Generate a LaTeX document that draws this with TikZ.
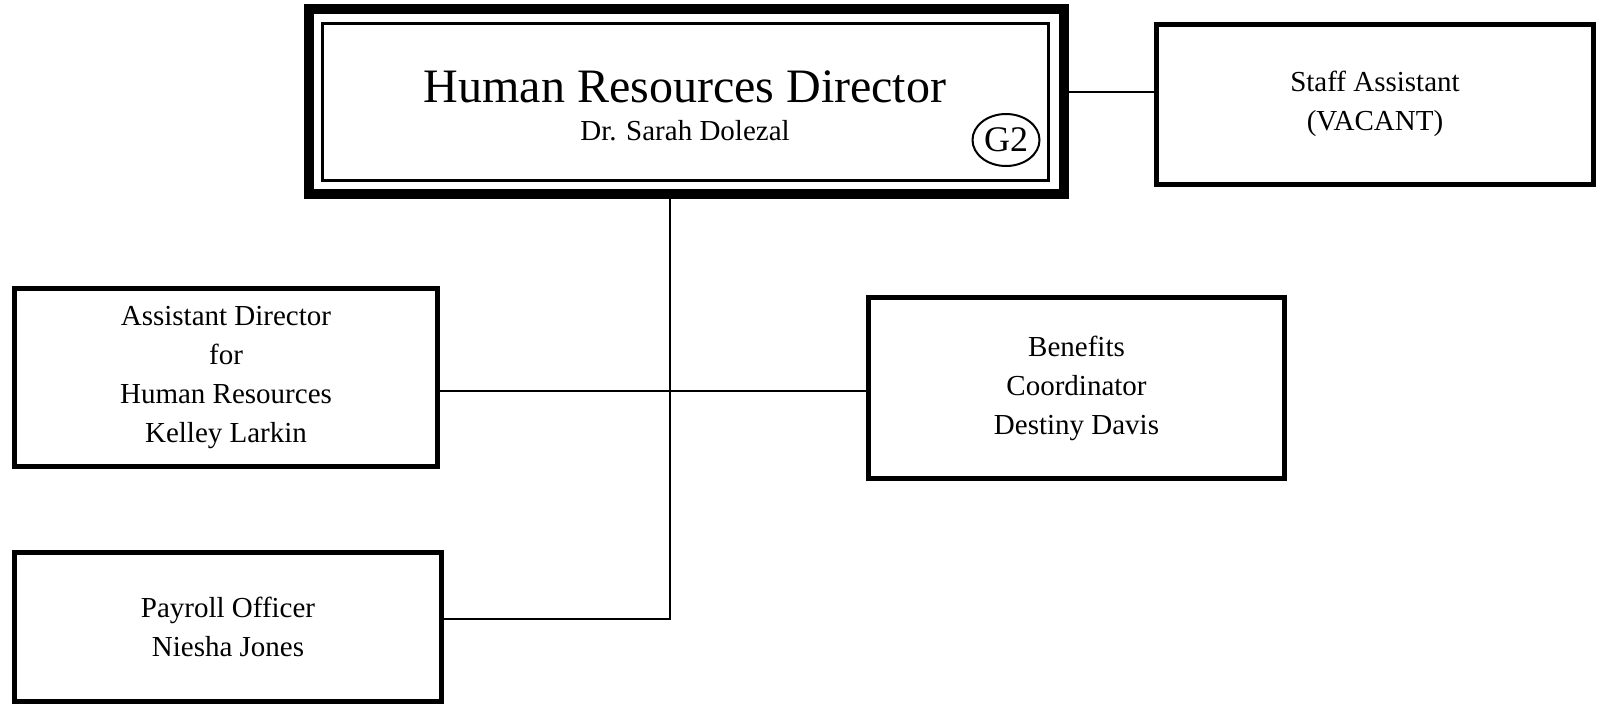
\documentclass[tikz,border=0pt]{standalone}
\usepackage{fontspec}
\setmainfont{Liberation Serif}
\usetikzlibrary{shapes.geometric}
\begin{document}
\begin{tikzpicture}[x=0.5pt,y=-0.5pt]
\tikzset{
  box/.style={draw, line width=2.5pt, align=center, inner sep=0pt,
    font=\fontsize{14.5}{19.5}\selectfont},
  conn/.style={line width=1pt},
  lbl/.style={inner sep=0pt, align=center}
}
\useasboundingbox (0,0) rectangle (1604,707);
% director box
\node[draw, line width=5pt, minimum width=377.5pt, minimum height=92.5pt, inner sep=0pt] (dir) at (686.5,101.5) {};
\node[draw, line width=1.65pt, minimum width=362.8pt, minimum height=78.5pt, inner sep=0pt] (dirin) at (685.5,102) {};
\node[lbl, font=\fontsize{24}{28}\selectfont] (title) at (685,87) {Human Resources Director};
\node[lbl, font=\fontsize{14.5}{19.5}\selectfont] (name) at (685,131) {Dr. Sarah Dolezal};
\node[draw, ellipse, line width=1pt, minimum width=33.5pt, minimum height=26pt, inner sep=0pt, font=\fontsize{18}{20}\selectfont] (g2) at (1006,140) {G2};
% other boxes
\node[box, minimum width=218.5pt, minimum height=80pt] (staff) at (1375,104) {Staff Assistant\\(VACANT)};
\node[box, minimum width=211.5pt, minimum height=89pt] (ad) at (226,377.5) {Assistant Director\\for\\Human Resources\\Kelley Larkin};
\node[box, minimum width=208pt, minimum height=90.5pt] (ben) at (1076.5,388) {Benefits\\Coordinator\\Destiny Davis};
\node[box, minimum width=213.5pt, minimum height=74.5pt] (pay) at (228,627) {Payroll Officer\\Niesha Jones};
% connectors
\coordinate (ys) at (0,92);
\coordinate (ym) at (0,391);
\coordinate (tb) at (670,619);
\draw[conn] (dir.east |- ys) -- (staff.west |- ys);
\draw[conn] (dir.south -| tb) -- (tb) -- (pay.east |- tb);
\draw[conn] (ad.east |- ym) -- (ben.west |- ym);
\end{tikzpicture}
\end{document}
